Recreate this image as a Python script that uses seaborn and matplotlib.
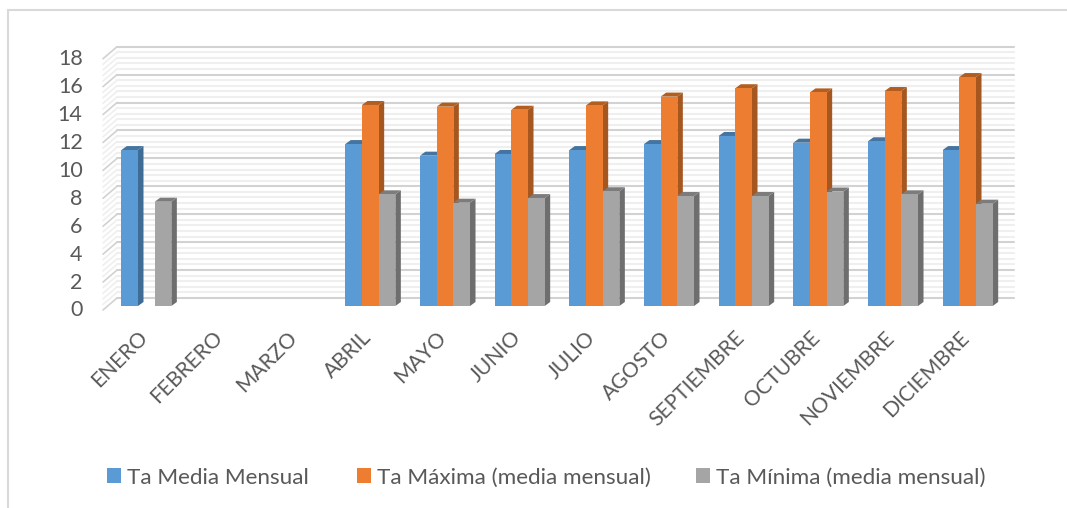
import numpy as np
import pandas as pd
import matplotlib
matplotlib.use('Agg')
import matplotlib.pyplot as plt
import seaborn as sns
from matplotlib.lines import Line2D
from matplotlib.patches import Polygon, Patch
from matplotlib.transforms import Affine2D, IdentityTransform

meses = ['ENERO', 'FEBRERO', 'MARZO', 'ABRIL', 'MAYO', 'JUNIO', 'JULIO', 'AGOSTO',
         'SEPTIEMBRE', 'OCTUBRE', 'NOVIEMBRE', 'DICIEMBRE']
media = [11.17, np.nan, np.nan, 11.6, 10.77, 10.89, 11.17, 11.6, 12.18, 11.7, 11.8, 11.17]
maxima = [np.nan, np.nan, np.nan, 14.4, 14.28, 14.06, 14.37, 15.0, 15.6, 15.3, 15.4, 16.4]
minima = [7.47, np.nan, np.nan, 8.0, 7.4, 7.73, 8.22, 7.88, 7.88, 8.2, 8.0, 7.33]
series = ['Ta Media Mensual', 'Ta Máxima (media mensual)', 'Ta Mínima (media mensual)']
yticks = list(range(0, 19, 2))

colores = ['#5B9BD5', '#ED7D31', '#A5A5A5']
lados = ['#3F6C95', '#A5571F', '#6E6E6E']
techos = ['#44749F', '#B25E20', '#7C7C7C']
texto = '#595959'

df = pd.DataFrame({'mes': meses, series[0]: media, series[1]: maxima, series[2]: minima})
df = df.melt(id_vars='mes', var_name='serie', value_name='valor')

sns.set_theme(style='white')
plt.rcParams['font.family'] = ['Lato', 'DejaVu Sans']

fig = plt.figure(figsize=(10.67, 5.08), dpi=100)
ax = fig.add_axes([109 / 1067, (508 - 306) / 508, 896 / 1067, 18 * 13.96 / 508])
ax.patch.set_alpha(0)

sns.barplot(data=df, x='mes', y='valor', hue='serie', order=meses, hue_order=series,
            palette=colores, saturation=1, width=0.67, gap=0, dodge=True, legend=False,
            errorbar=None, linewidth=0, ax=ax)
ax.set_xlim(-0.5, 11.5)
ax.set_ylim(0, 18)
sns.despine(ax=ax, left=True, bottom=True)
ax.set_xlabel('')
ax.set_ylabel('')
ax.set_yticks(yticks)

# back wall and side wall of the 3D box, offset in pixels from the front plane
back = ax.transData + Affine2D().translate(8, 8)
for v in np.arange(0, 18.01, 0.4):
    mayor = abs(v / 2 - round(v / 2)) < 0.01
    col = '#D2D2D2' if mayor else '#EFEFEF'
    ax.plot([-0.5, 11.52], [v, v], color=col, lw=1.5, transform=back, zorder=0.5 if mayor else 0.4,
            clip_on=False)
    x0, y0 = ax.transData.transform((-0.5, v))
    ax.add_line(Line2D([x0 - 6, x0 + 8], [y0 - 4, y0 + 8], color=col, lw=1.2,
                       transform=IdentityTransform(), zorder=0.4, clip_on=False))

# side and top faces of each bar, built from the seaborn bars
dx, dy = 5.5, 4
for i, cont in enumerate(ax.containers):
    for bar in cont:
        h = bar.get_height()
        if not np.isfinite(h) or h == 0:
            continue
        bar.set_zorder(2 * i + 3)
        (xa, ya) = ax.transData.transform((bar.get_x(), 0))
        (xb, yb) = ax.transData.transform((bar.get_x() + bar.get_width(), h))
        ax.add_patch(Polygon([(xb, ya), (xb + dx, ya + dy), (xb + dx, yb + dy), (xb, yb)],
                             closed=True, fc=lados[i], ec='none', transform=IdentityTransform(),
                             zorder=2 * i + 2, clip_on=False))
        ax.add_patch(Polygon([(xa, yb), (xa + dx, yb + dy), (xb + dx, yb + dy), (xb, yb)],
                             closed=True, fc=techos[i], ec='none', transform=IdentityTransform(),
                             zorder=2 * i + 2, clip_on=False))

ax.tick_params(axis='both', length=0, colors=texto)
ax.tick_params(axis='y', labelsize=15.5, pad=19)
ax.tick_params(axis='x', labelsize=15.2, pad=19)
for lab in ax.get_yticklabels():
    lab.set_transform(lab.get_transform() + Affine2D().translate(0, -2.5))
for lab in ax.get_xticklabels():
    lab.set_transform(lab.get_transform() + Affine2D().translate(-9, 5))
plt.setp(ax.get_xticklabels(), rotation=45, ha='right', rotation_mode='anchor')

# one legend per series so each entry sits where the reference has it
for nombre, color, xleg in zip(series, colores, [107, 357, 696]):
    fig.legend([Patch(fc=color, ec='none')], [nombre], loc='center left',
               bbox_to_anchor=(xleg / 1067, 1 - 477.5 / 508), frameon=False, fontsize=16.2,
               labelcolor=texto, handlelength=0.62, handleheight=0.62, handletextpad=0.27,
               borderpad=0, borderaxespad=0)

# chart frame, cropped at right and bottom
fig.add_artist(Line2D([8 / 1067, 8 / 1067], [0, 1 - 10 / 508], color='#D9D9D9', lw=1.5))
fig.add_artist(Line2D([8 / 1067, 1], [1 - 10 / 508, 1 - 10 / 508], color='#D9D9D9', lw=1.5))

fig.savefig('out.png', dpi=100)
